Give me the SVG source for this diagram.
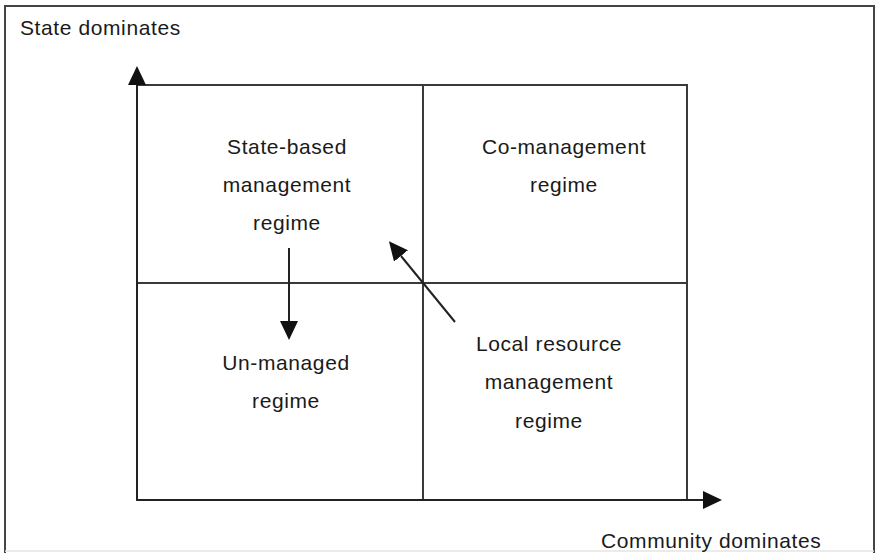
<svg xmlns="http://www.w3.org/2000/svg" width="880" height="553" viewBox="0 0 880 553">
  <style>
    .frame { fill: none; stroke: #444; stroke-width: 2; }
    .grid { fill: none; stroke: #3a3a3a; stroke-width: 2; }
    .conn { fill: none; stroke: #222; stroke-width: 2; }
    .lbl { font-family: "Liberation Sans", Arial, sans-serif; font-size: 21px; letter-spacing: 0.6px; fill: #1a1a1a; text-anchor: middle; }
    .axl { font-family: "Liberation Sans", Arial, sans-serif; font-size: 21px; letter-spacing: 0.6px; fill: #1a1a1a; }
  </style>
  <defs>
    <marker id="arrow" viewBox="0 0 19 18" refX="0" refY="9" markerWidth="19" markerHeight="18" markerUnits="userSpaceOnUse" orient="auto">
      <path d="M0,0 L19,9 L0,18 z" fill="#111"/>
    </marker>
  </defs>
  <rect width="880" height="553" fill="#ffffff"/>
  <g id="frame">
    <path class="frame" d="M5,553 L5,6 L874,6 L874,553"/>
    <line x1="5" y1="551" x2="874" y2="551" stroke="#e4e4e4" stroke-width="1.5"/>
  </g>
  <g id="grid">
    <rect class="grid" x="137" y="85" width="550" height="415"/>
    <line class="grid" x1="423" y1="85" x2="423" y2="500"/>
    <line class="grid" x1="137" y1="283" x2="687" y2="283"/>
  </g>
  <g id="axes">
    <line class="conn" x1="137" y1="500" x2="137" y2="85" marker-end="url(#arrow)"/>
    <line class="conn" x1="137" y1="500" x2="703" y2="500" marker-end="url(#arrow)"/>
    <text id="y-axis-label" class="axl" x="20" y="35">State dominates</text>
    <text id="x-axis-label" class="axl" x="601" y="548">Community dominates</text>
  </g>
  <g id="node-state">
    <text class="lbl" x="287" y="154">State-based</text>
    <text class="lbl" x="287" y="192">management</text>
    <text class="lbl" x="287" y="230">regime</text>
  </g>
  <g id="node-co">
    <text class="lbl" x="564" y="154">Co-management</text>
    <text class="lbl" x="564" y="192">regime</text>
  </g>
  <g id="node-unmanaged">
    <text class="lbl" x="286" y="370">Un-managed</text>
    <text class="lbl" x="286" y="408">regime</text>
  </g>
  <g id="node-local">
    <text class="lbl" x="549" y="351">Local resource</text>
    <text class="lbl" x="549" y="389">management</text>
    <text class="lbl" x="549" y="428">regime</text>
  </g>
  <g id="connectors">
    <line class="conn" x1="289" y1="248" x2="289" y2="321" marker-end="url(#arrow)"/>
    <line class="conn" x1="455" y1="322" x2="401" y2="256" marker-end="url(#arrow)"/>
  </g>
</svg>
